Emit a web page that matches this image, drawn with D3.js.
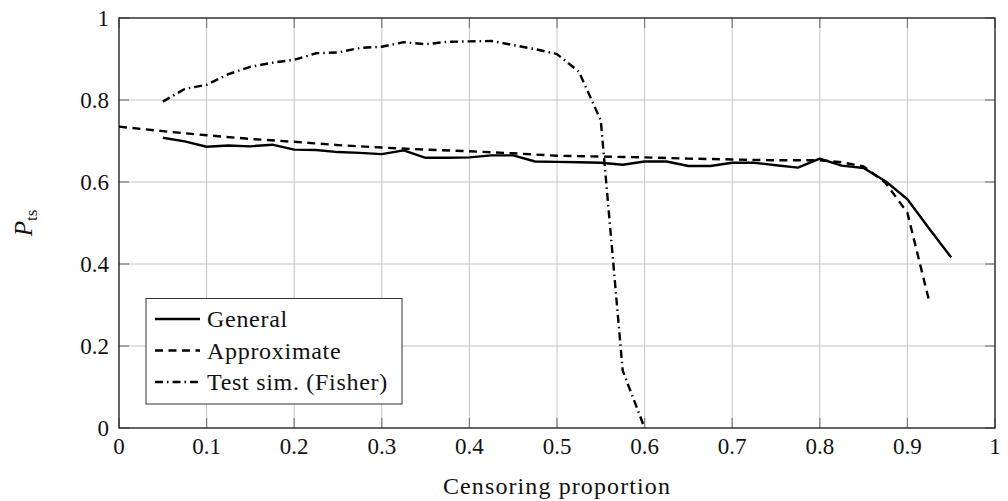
<!DOCTYPE html>
<html>
<head>
<meta charset="utf-8">
<script src="https://cdn.jsdelivr.net/npm/d3@7"></script>
<style>
  body { margin: 0; background: #fff; }
  text { font-family: "Liberation Serif", "DejaVu Serif", serif; fill: #111; }
</style>
</head>
<body>
<div id="chart"></div>
<script>
// censoring proportion grid used by the simulations
var generalX = [0.05, 0.075, 0.1, 0.125, 0.15, 0.175, 0.2, 0.225, 0.25, 0.275, 0.3, 0.325, 0.35, 0.375,
    0.4, 0.425, 0.45, 0.475, 0.5, 0.525, 0.55, 0.575, 0.6, 0.625, 0.65, 0.675, 0.7, 0.725, 0.75, 0.775,
    0.8, 0.825, 0.85, 0.875, 0.9, 0.925, 0.95];
var generalY = [0.708, 0.699, 0.686, 0.689, 0.687, 0.691, 0.679, 0.678, 0.673, 0.671, 0.668, 0.677, 0.659, 0.659,
    0.660, 0.665, 0.665, 0.650, 0.649, 0.648, 0.647, 0.642, 0.650, 0.650, 0.639, 0.639, 0.647, 0.647, 0.641, 0.635,
    0.657, 0.640, 0.634, 0.602, 0.558, 0.486, 0.416];

var approxX = [0, 0.05, 0.1, 0.15, 0.2, 0.25, 0.3, 0.35, 0.4, 0.45, 0.5, 0.55, 0.6, 0.65, 0.7, 0.75,
    0.8, 0.825, 0.85, 0.875, 0.9, 0.925];
var approxY = [0.735, 0.724, 0.714, 0.705, 0.698, 0.690, 0.684, 0.679, 0.675, 0.670, 0.664, 0.662, 0.660, 0.657, 0.655, 0.653,
    0.653, 0.648, 0.638, 0.598, 0.525, 0.308];

var fisherX = [0.05, 0.075, 0.1, 0.125, 0.15, 0.175, 0.2, 0.225, 0.25, 0.275, 0.3, 0.325, 0.35, 0.375,
    0.4, 0.425, 0.45, 0.475, 0.5, 0.525, 0.55, 0.575, 0.6];
var fisherY = [0.796, 0.827, 0.837, 0.863, 0.881, 0.891, 0.898, 0.914, 0.916, 0.927, 0.930, 0.941, 0.936, 0.942,
    0.943, 0.944, 0.934, 0.924, 0.912, 0.869, 0.750, 0.140, 0.0];

var xTicks = [0, 0.1, 0.2, 0.3, 0.4, 0.5, 0.6, 0.7, 0.8, 0.9, 1];
var yTicks = [0, 0.2, 0.4, 0.6, 0.8, 1];
var seriesNames = ["General", "Approximate", "Test sim. (Fisher)"];

var width = 1008, height = 501;
var margin = {left: 119, right: 13, top: 18, bottom: 73};

var svg = d3.select('#chart').append('svg')
    .attr('width', width)
    .attr('height', height);

var x = d3.scaleLinear().domain([0, 1]).range([margin.left, width - margin.right]);
var y = d3.scaleLinear().domain([0, 1]).range([height - margin.bottom, margin.top]);

var fmt = function(d) { return d === 0 || d === 1 ? String(d) : d3.format('.1f')(d); };

// grid
var grid = svg.append('g').attr('class', 'grid')
    .attr('stroke', '#c4c4c4').attr('stroke-width', 1);
grid.selectAll('.gx').data(xTicks).enter().append('line')
    .attr('x1', function(d) { return x(d); }).attr('x2', function(d) { return x(d); })
    .attr('y1', y(0)).attr('y2', y(1));
grid.selectAll('.gy').data(yTicks).enter().append('line')
    .attr('x1', x(0)).attr('x2', x(1))
    .attr('y1', function(d) { return y(d); }).attr('y2', function(d) { return y(d); });

// inward ticks on all four sides
var tlen = 10;
var ticks = svg.append('g').attr('stroke', '#7a7a7a').attr('stroke-width', 1.2);
xTicks.forEach(function(d) {
    ticks.append('line').attr('x1', x(d)).attr('x2', x(d)).attr('y1', y(0)).attr('y2', y(0) - tlen);
    ticks.append('line').attr('x1', x(d)).attr('x2', x(d)).attr('y1', y(1)).attr('y2', y(1) + tlen);
});
yTicks.forEach(function(d) {
    ticks.append('line').attr('x1', x(0)).attr('x2', x(0) + tlen).attr('y1', y(d)).attr('y2', y(d));
    ticks.append('line').attr('x1', x(1)).attr('x2', x(1) - tlen).attr('y1', y(d)).attr('y2', y(d));
});

// frame
svg.append('rect')
    .attr('x', x(0)).attr('y', y(1))
    .attr('width', x(1) - x(0)).attr('height', y(0) - y(1))
    .attr('fill', 'none').attr('stroke', '#222').attr('stroke-width', 1.3);

// tick labels
svg.append('g').selectAll('text').data(xTicks).enter().append('text')
    .attr('x', function(d) { return x(d); })
    .attr('y', y(0) + 26)
    .attr('text-anchor', 'middle')
    .attr('font-size', 23)
    .text(fmt);
svg.append('g').selectAll('text').data(yTicks).enter().append('text')
    .attr('x', x(0) - 10)
    .attr('y', function(d) { return y(d) + 8; })
    .attr('text-anchor', 'end')
    .attr('font-size', 23)
    .text(fmt);

// axis labels
svg.append('text')
    .attr('x', (x(0) + x(1)) / 2)
    .attr('y', 494)
    .attr('text-anchor', 'middle')
    .attr('font-size', 24)
    .attr('letter-spacing', 1.1)
    .text('Censoring proportion');

var ylab = svg.append('text')
    .attr('transform', 'translate(32,' + ((y(0) + y(1)) / 2) + ') rotate(-90)')
    .attr('text-anchor', 'middle')
    .attr('font-size', 25);
ylab.append('tspan').attr('font-style', 'italic').text('P');
ylab.append('tspan').attr('font-size', 17).attr('dy', 5).text('ts');

// series
var styles = [
    {dash: null},
    {dash: '8,5.5'},
    {dash: '8,4,1.5,4'}
];
var series = [
    d3.zip(generalX, generalY),
    d3.zip(approxX, approxY),
    d3.zip(fisherX, fisherY)
];
var line = d3.line().x(function(d) { return x(d[0]); }).y(function(d) { return y(d[1]); });

svg.append('g').selectAll('path').data(series).enter().append('path')
    .attr('d', line)
    .attr('fill', 'none')
    .attr('stroke', '#000')
    .attr('stroke-width', 2.4)
    .attr('stroke-linejoin', 'round')
    .attr('stroke-dasharray', function(d, i) { return styles[i].dash; });

// legend
var legend = svg.append('g').attr('class', 'legend');
legend.append('rect')
    .attr('x', 146).attr('y', 298.5)
    .attr('width', 256).attr('height', 105.5)
    .attr('fill', '#fff').attr('stroke', '#333').attr('stroke-width', 1);
var items = legend.selectAll('.item').data(seriesNames).enter().append('g')
    .attr('transform', function(d, i) { return 'translate(155,' + (319 + i * 31.5) + ')'; });
items.append('line')
    .attr('x1', 0).attr('x2', 45).attr('y1', 0).attr('y2', 0)
    .attr('stroke', '#000').attr('stroke-width', 2.4)
    .attr('stroke-dasharray', function(d, i) { return styles[i].dash; });
items.append('text')
    .attr('x', 52).attr('y', 8)
    .attr('font-size', 24)
    .attr('letter-spacing', 0.7)
    .text(function(d) { return d; });
</script>
</body>
</html>
